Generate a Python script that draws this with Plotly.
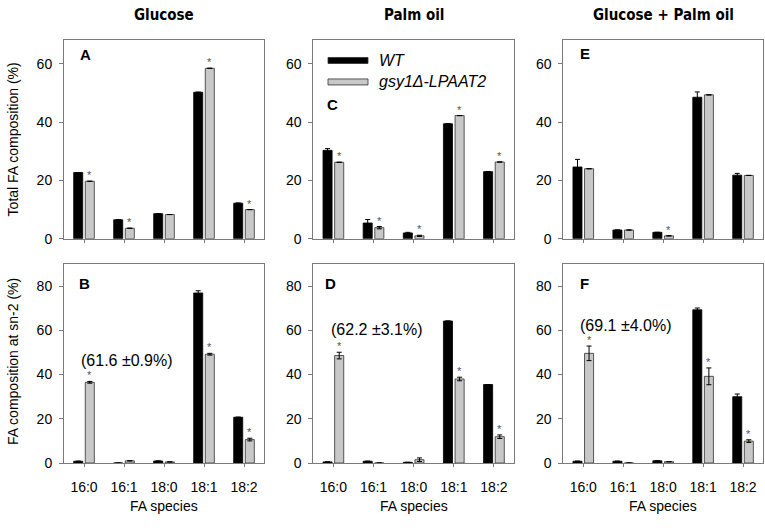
import plotly.graph_objects as go

categories = ["16:0", "16:1", "18:0", "18:1", "18:2"]

# Total FA composition (%) - top row
A_wt = [22.7, 6.5, 8.6, 50.2, 12.2]
A_wt_err = [0.0, 0.0, 0.0, 0.0, 0.0]
A_mut = [19.7, 3.6, 8.3, 58.4, 10.0]
A_mut_err = [0.0, 0.0, 0.0, 0.0, 0.0]
A_star = [1, 1, 0, 1, 1]

C_wt = [30.3, 5.4, 2.0, 39.4, 23.0]
C_wt_err = [0.6, 1.2, 0.2, 0.0, 0.0]
C_mut = [26.2, 3.8, 1.0, 42.2, 26.3]
C_mut_err = [0.0, 0.4, 0.2, 0.0, 0.0]
C_star = [1, 1, 1, 1, 1]

E_wt = [24.6, 3.0, 2.2, 48.5, 21.8]
E_wt_err = [2.6, 0.0, 0.0, 1.8, 0.6]
E_mut = [24.0, 3.0, 1.0, 49.3, 21.7]
E_mut_err = [0.0, 0.0, 0.0, 0.0, 0.0]
E_star = [0, 0, 1, 0, 0]

# FA composition at sn-2 (%) - bottom row
B_wt = [0.8, 0.0, 0.9, 76.9, 20.7]
B_wt_err = [0.0, 0.0, 0.0, 1.0, 0.0]
B_mut = [36.5, 1.0, 0.5, 49.2, 10.6]
B_mut_err = [0.4, 0.0, 0.0, 0.4, 0.6]
B_star = [1, 0, 0, 1, 1]

D_wt = [0.5, 0.8, 0.3, 64.2, 35.5]
D_wt_err = [0.0, 0.0, 0.0, 0.0, 0.0]
D_mut = [48.6, 0.0, 1.5, 38.0, 11.9]
D_mut_err = [1.5, 0.0, 0.8, 0.8, 0.8]
D_star = [1, 0, 0, 1, 1]

F_wt = [0.8, 0.8, 1.0, 69.3, 30.0]
F_wt_err = [0.0, 0.0, 0.0, 0.8, 1.2]
F_mut = [49.6, 0.0, 0.6, 39.2, 9.9]
F_mut_err = [3.3, 0.0, 0.0, 3.8, 0.6]
F_star = [1, 0, 0, 1, 1]

sn2_notes = ["(61.6 \u00b10.9%)", "(62.2 \u00b13.1%)", "(69.1 \u00b14.0%)"]
col_titles = ["Glucose", "Palm oil", "Glucose + Palm oil"]
panel_letters = ["A", "C", "E", "B", "D", "F"]
series_names = ["WT", "gsy1\u0394-LPAAT2"]

WT_COLOR = "#000000"
MUT_COLOR = "#c8c8c8"
AX_COLOR = "#7a7a7a"
FONT = "Liberation Sans, Arial, sans-serif"
NARROW = "DejaVu Sans Condensed, Liberation Sans, sans-serif"

panels = [
    (A_wt, A_wt_err, A_mut, A_mut_err, A_star),
    (C_wt, C_wt_err, C_mut, C_mut_err, C_star),
    (E_wt, E_wt_err, E_mut, E_mut_err, E_star),
    (B_wt, B_wt_err, B_mut, B_mut_err, B_star),
    (D_wt, D_wt_err, D_mut, D_mut_err, D_star),
    (F_wt, F_wt_err, F_mut, F_mut_err, F_star),
]

W, H = 765, 530
ML, MR, MT, MB = 64, 2, 39.5, 530 - 463
PW, PH = W - ML - MR, H - MT - MB

def px_x(p):
    return (p - ML) / PW

def px_y(p):
    return (H - MB - p) / PH

x_domains = [[px_x(64), px_x(264)], [px_x(313.3), px_x(514)], [px_x(563.3), px_x(763)]]
y_domains = [[px_y(238.5), px_y(39.5)], [px_y(463), px_y(264)]]

# panel letter positions: (px from left axis, letter centre px below panel top)
letter_pos = [(14, 14.5), (12, 64.5), (15, 14), (13, 19), (10, 19), (15, 19)]

BARGAP = 0.42
BARGROUPGAP = 0.22
gray_off = (1 - BARGAP) / 4

fig = go.Figure()
layout = {}
annotations = []
xs = list(range(len(categories)))

for i, (wt, wte, mut, mute, star) in enumerate(panels):
    row, col = divmod(i, 3)
    n = i + 1
    xa = "x" if n == 1 else f"x{n}"
    ya = "y" if n == 1 else f"y{n}"
    fig.add_trace(go.Bar(
        x=xs, y=wt, name=series_names[0], xaxis=xa, yaxis=ya,
        marker=dict(color=WT_COLOR, line=dict(color="#000000", width=0.8)),
        error_y=dict(type="data", array=wte, color="#000000", thickness=1, width=2.5),
        showlegend=False, offsetgroup="wt", hoverinfo="skip",
    ))
    fig.add_trace(go.Bar(
        x=xs, y=mut, name=series_names[1], xaxis=xa, yaxis=ya,
        marker=dict(color=MUT_COLOR, line=dict(color="#303030", width=0.8)),
        error_y=dict(type="data", array=mute, color="#000000", thickness=1, width=2.5),
        showlegend=False, offsetgroup="mut", hoverinfo="skip",
    ))
    ymax = 68.1 if row == 0 else 89.9
    tv = [0, 20, 40, 60] if row == 0 else [0, 20, 40, 60, 80]
    layout["xaxis" if n == 1 else f"xaxis{n}"] = dict(
        domain=x_domains[col], anchor=ya, range=[-0.5, 4.5],
        tickvals=xs, ticktext=categories if row == 1 else [""] * 5,
        ticks="outside", ticklen=3, tickcolor=AX_COLOR,
        showline=True, linecolor=AX_COLOR, linewidth=1, mirror=True,
        showgrid=False, zeroline=False,
        tickfont=dict(family=FONT, size=14, color="#000000"),
        ticklabelstandoff=8,
        fixedrange=True,
    )
    layout["yaxis" if n == 1 else f"yaxis{n}"] = dict(
        domain=y_domains[row], anchor=xa, range=[0, ymax],
        tickvals=tv, ticks="outside", ticklen=4, tickcolor=AX_COLOR,
        showline=True, linecolor=AX_COLOR, linewidth=1, mirror=True,
        showgrid=False, zeroline=False,
        tickfont=dict(family=FONT, size=14, color="#000000"),
        ticklabelstandoff=4,
        fixedrange=True,
    )
    # significance stars
    for j, s in enumerate(star):
        if s:
            annotations.append(dict(
                x=j + gray_off, y=mut[j] + mute[j], xref=xa, yref=ya,
                text="*", showarrow=False, xanchor="center", yanchor="bottom", yshift=-2,
                font=dict(family=FONT, size=11, color="#555555"),
            ))
    # panel letter
    lx, ly = letter_pos[i]
    annotations.append(dict(
        x=lx / 200, y=1 - ly / 199, xref=f"{xa} domain", yref=f"{ya} domain",
        text=f"<b>{panel_letters[i]}</b>", showarrow=False, xanchor="left", yanchor="middle",
        font=dict(family=FONT, size=15, color="#000000"),
    ))
    if row == 1:
        annotations.append(dict(
            x=1.08, y=[46.5, 60.4, 62.3][col], xref=xa, yref=ya,
            text=sn2_notes[col], showarrow=False, xanchor="center", yanchor="middle",
            font=dict(family=FONT, size=16, color="#000000"),
        ))

# column titles and x-axis titles (centred over each panel)
for col in range(3):
    cx = (x_domains[col][0] + x_domains[col][1]) / 2
    annotations.append(dict(
        x=cx, y=px_y(14), xref="paper", yref="paper", text=f"<b>{col_titles[col]}</b>",
        showarrow=False, xanchor="center", yanchor="middle",
        font=dict(family=NARROW, size=15, color="#000000"),
    ))
    annotations.append(dict(
        x=cx, y=px_y(506), xref="paper", yref="paper", text="FA species",
        showarrow=False, xanchor="center", yanchor="middle",
        font=dict(family=FONT, size=14, color="#000000"),
    ))

# y-axis titles
for title, yc in [("Total FA composition (%)", 139), ("FA composition at sn-2 (%)", 362)]:
    annotations.append(dict(
        x=px_x(13), y=px_y(yc), xref="paper", yref="paper", text=title,
        textangle=-90, showarrow=False, xanchor="center", yanchor="middle",
        font=dict(family=FONT, size=14, color="#000000"),
    ))

# custom legend in panel C
shapes = []
leg_colors = [WT_COLOR, MUT_COLOR]
for k, yy in enumerate([60, 81.5]):
    shapes.append(dict(
        type="rect", xref="paper", yref="paper",
        x0=px_x(328), x1=px_x(368), y0=px_y(yy + 3), y1=px_y(yy - 3),
        fillcolor=leg_colors[k], line=dict(color="#303030", width=0.8),
    ))
    annotations.append(dict(
        x=px_x(377), y=px_y(yy), xref="paper", yref="paper", xanchor="left", yanchor="middle",
        text=f"<i>{series_names[k]}</i>", showarrow=False,
        font=dict(family=FONT, size=16, color="#000000"),
    ))

fig.update_layout(
    **layout,
    barmode="group", bargap=BARGAP, bargroupgap=BARGROUPGAP,
    width=W, height=H, margin=dict(l=ML, r=MR, t=MT, b=MB),
    paper_bgcolor="white", plot_bgcolor="white",
    annotations=annotations, shapes=shapes, showlegend=False,
    font=dict(family=FONT, size=14, color="#000000"),
)

fig.write_html("out.html", config={"displayModeBar": False},
               post_script="document.body.style.margin='0';")
